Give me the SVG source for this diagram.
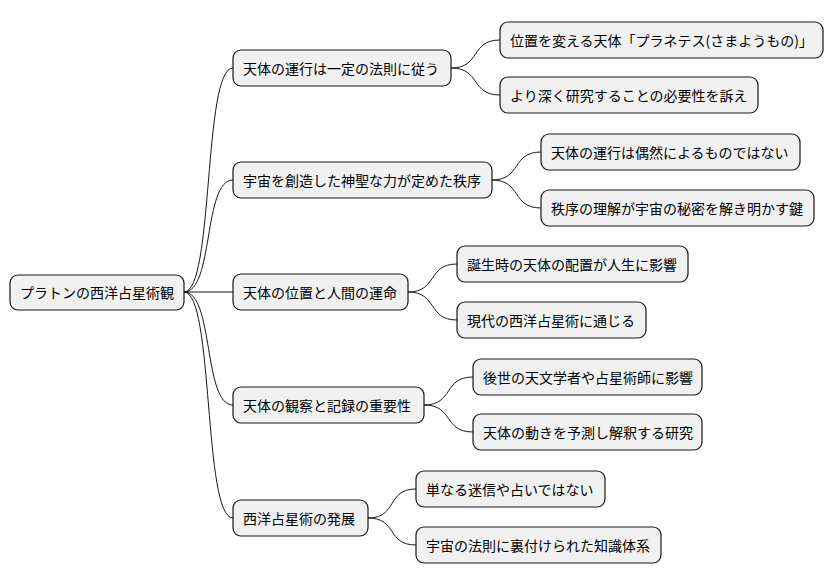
<svg xmlns="http://www.w3.org/2000/svg" width="835" height="583" viewBox="0 0 835 583">
<style>
rect{fill:#f1f1f1;stroke:#181818;stroke-width:1.2}
text{font-family:"Noto Sans CJK JP","Liberation Sans",sans-serif;font-size:14px;fill:#000;dominant-baseline:central}
#connectors path{fill:none;stroke:#181818;stroke-width:1}
</style>
<rect x="0" y="0" width="835" height="583" style="fill:#fff;stroke:none"/>
<g id="connectors">
<path d="M184,292 C214,292 203,68 233,68"/>
<path d="M184,292 C214,292 203,180 233,180"/>
<path d="M184,292 L233,292"/>
<path d="M184,292 C214,292 203,405 233,405"/>
<path d="M184,292 C214,292 203,518 233,518"/>
<path d="M451,68 C481,68 470,40 500,40"/>
<path d="M451,68 C481,68 470,95 500,95"/>
<path d="M492,180 C522,180 511,152 541,152"/>
<path d="M492,180 C522,180 511,208 541,208"/>
<path d="M408,292 C438,292 427,264 457,264"/>
<path d="M408,292 C438,292 427,320 457,320"/>
<path d="M424,405 C454,405 443,377 473,377"/>
<path d="M424,405 C454,405 443,432 473,432"/>
<path d="M368,518 C398,518 386,489 416,489"/>
<path d="M368,518 C398,518 386,545 416,545"/>
</g>
<g id="root"><rect x="10" y="275" width="174" height="35" rx="8"/><text x="20" y="292">プラトンの西洋占星術観</text></g>
<g id="n1"><rect x="233" y="50" width="218" height="36" rx="8"/><text x="243" y="68">天体の運行は一定の法則に従う</text></g>
<g id="n1a"><rect x="500" y="22" width="323" height="36" rx="8"/><text x="510" y="40">位置を変える天体「プラネテス(さまようもの)」</text></g>
<g id="n1b"><rect x="500" y="77" width="258" height="36" rx="8"/><text x="510" y="95">より深く研究することの必要性を訴え</text></g>
<g id="n2"><rect x="233" y="162" width="259" height="36" rx="8"/><text x="243" y="180">宇宙を創造した神聖な力が定めた秩序</text></g>
<g id="n2a"><rect x="541" y="134" width="259" height="36" rx="8"/><text x="551" y="152">天体の運行は偶然によるものではない</text></g>
<g id="n2b"><rect x="541" y="190" width="273" height="36" rx="8"/><text x="551" y="208">秩序の理解が宇宙の秘密を解き明かす鍵</text></g>
<g id="n3"><rect x="233" y="274" width="175" height="36" rx="8"/><text x="243" y="292">天体の位置と人間の運命</text></g>
<g id="n3a"><rect x="457" y="246" width="231" height="36" rx="8"/><text x="467" y="264">誕生時の天体の配置が人生に影響</text></g>
<g id="n3b"><rect x="457" y="302" width="189" height="36" rx="8"/><text x="467" y="320">現代の西洋占星術に通じる</text></g>
<g id="n4"><rect x="233" y="387" width="191" height="36" rx="8"/><text x="243" y="405">天体の観察と記録の重要性</text></g>
<g id="n4a"><rect x="473" y="359" width="229" height="36" rx="8"/><text x="483" y="377">後世の天文学者や占星術師に影響</text></g>
<g id="n4b"><rect x="473" y="414" width="229" height="36" rx="8"/><text x="483" y="432">天体の動きを予測し解釈する研究</text></g>
<g id="n5"><rect x="233" y="500" width="135" height="36" rx="8"/><text x="243" y="518">西洋占星術の発展</text></g>
<g id="n5a"><rect x="416" y="471" width="189" height="36" rx="8"/><text x="426" y="489">単なる迷信や占いではない</text></g>
<g id="n5b"><rect x="416" y="527" width="245" height="36" rx="8"/><text x="426" y="545">宇宙の法則に裏付けられた知識体系</text></g>
</svg>
